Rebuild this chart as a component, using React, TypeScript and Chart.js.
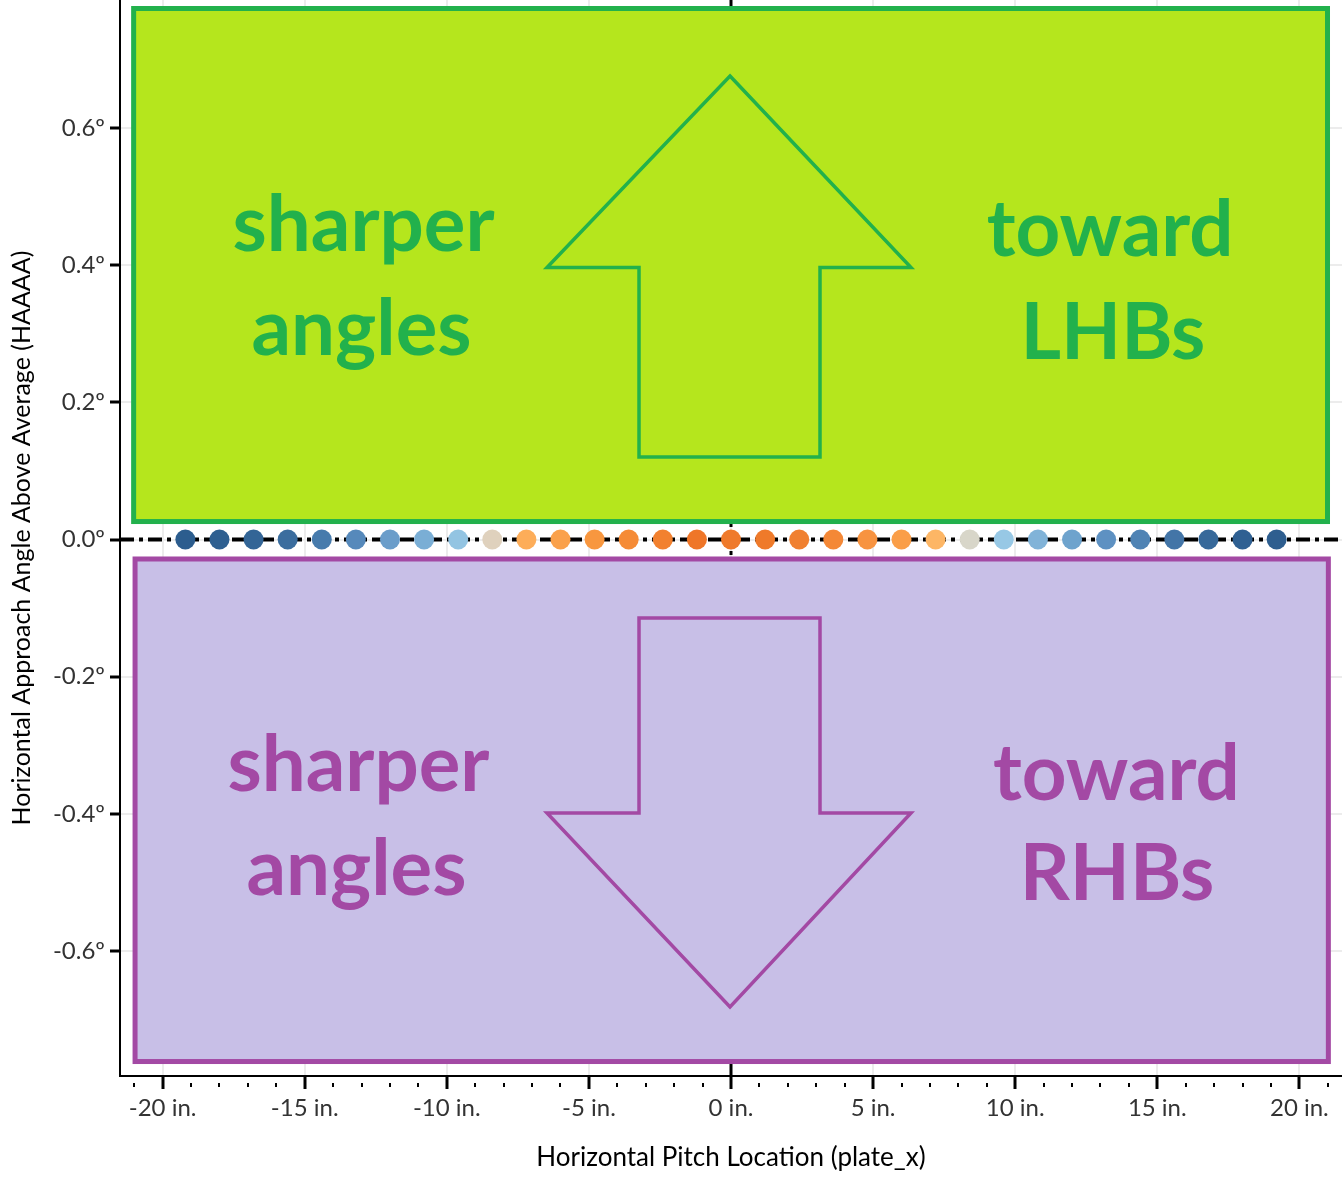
import React, { useEffect, useRef } from 'react';
import { Chart, registerables } from 'chart.js';

Chart.register(...registerables);

// ---- data ----
const plateX = [
  -19.2, -18.0, -16.8, -15.6, -14.4, -13.2, -12.0, -10.8, -9.6, -8.4, -7.2,
  -6.0, -4.8, -3.6, -2.4, -1.2, 0, 1.2, 2.4, 3.6, 4.8, 6.0,
  7.2, 8.4, 9.6, 10.8, 12.0, 13.2, 14.4, 15.6, 16.8, 18.0, 19.2,
];
const haaaa = [
  0, 0, 0, 0, 0, 0, 0, 0, 0, 0, 0,
  0, 0, 0, 0, 0, 0, 0, 0, 0, 0, 0,
  0, 0, 0, 0, 0, 0, 0, 0, 0, 0, 0,
];
const dotColors = [
  '#2c5d8e', '#2e5f90', '#336596', '#3b6d9e', '#477bac', '#5689bb', '#6a9dca', '#7aaed5', '#93c4e2', '#dfd1bd', '#fdad59',
  '#faa14b', '#f8973f', '#f58b36', '#f2812f', '#ef7628', '#ef7a2b', '#ef7a2a', '#f08030', '#f48836', '#f79340', '#fa9e48',
  '#fdb665', '#d8d6c9', '#97c8e5', '#81b3d8', '#6ea3cd', '#5e91c2', '#4f83b4', '#4375a7', '#37699a', '#2f6092', '#2e5e8f',
];
const xTickValues = [-20, -15, -10, -5, 0, 5, 10, 15, 20];
const xMinorValues = [
  -21, -19, -18, -17, -16, -14, -13, -12, -11, -9, -8, -7, -6, -4, -3, -2, -1,
  1, 2, 3, 4, 6, 7, 8, 9, 11, 12, 13, 14, 16, 17, 18, 19, 21,
];
const yTickValues = [-0.6, -0.4, -0.2, 0, 0.2, 0.4, 0.6];

// ---- annotations (data units) ----
const panels = [
  { x1: -21.02, x2: 20.99, y1: 0.774, y2: 0.0262, fill: '#b5e61d', stroke: '#22b14c' },
  { x1: -20.97, x2: 21.02, y1: -0.0284, y2: -0.7609, fill: '#c8bfe7', stroke: '#a349a4' },
];
const arrows = [
  {
    color: '#22b14c',
    pts: [[-0.035, 0.6756], [6.334, 0.3964], [3.132, 0.3964], [3.132, 0.1203], [-3.237, 0.1203], [-3.237, 0.3964], [-6.475, 0.3964]],
  },
  {
    color: '#a349a4',
    pts: [[-3.237, -0.1144], [3.132, -0.1144], [3.132, -0.3987], [6.334, -0.3987], [-0.035, -0.6815], [-6.475, -0.3987], [-3.237, -0.3987]],
  },
];
const notes = [
  { text: 'sharper', x: -12.93, y: 0.421, color: '#22b14c' },
  { text: 'angles', x: -13.0, y: 0.2689, color: '#22b14c' },
  { text: 'toward', x: 13.34, y: 0.4137, color: '#22b14c' },
  { text: 'LHBs', x: 13.44, y: 0.2631, color: '#22b14c' },
  { text: 'sharper', x: -13.11, y: -0.3662, color: '#a349a4' },
  { text: 'angles', x: -13.18, y: -0.5182, color: '#a349a4' },
  { text: 'toward', x: 13.56, y: -0.3797, color: '#a349a4' },
  { text: 'RHBs', x: 13.58, y: -0.5255, color: '#a349a4' },
];

const FONT = 'Lato, "Noto Sans", sans-serif';

const overlayPlugin = {
  id: 'overlay',
  beforeDatasetsDraw(chart: any) {
    const { ctx, chartArea } = chart;
    const xs = chart.scales.x;
    const ys = chart.scales.y;
    const px = (v: number) => xs.getPixelForValue(v);
    const py = (v: number) => ys.getPixelForValue(v);
    ctx.save();
    // vertical zero reference line
    ctx.strokeStyle = '#000';
    ctx.lineWidth = 3;
    ctx.setLineDash([14, 5, 4, 5]);
    ctx.beginPath();
    ctx.moveTo(px(0), chartArea.top);
    ctx.lineTo(px(0), chartArea.bottom);
    ctx.stroke();
    ctx.setLineDash([]);
    // panels
    for (const p of panels) {
      const l = px(p.x1), r = px(p.x2), t = py(p.y1), b = py(p.y2);
      ctx.fillStyle = p.fill;
      ctx.fillRect(l, t, r - l, b - t);
      ctx.strokeStyle = p.stroke;
      ctx.lineWidth = 5;
      ctx.strokeRect(l, t, r - l, b - t);
    }
    // arrows
    for (const a of arrows) {
      ctx.strokeStyle = a.color;
      ctx.lineWidth = 3.5;
      ctx.lineJoin = 'miter';
      ctx.beginPath();
      a.pts.forEach(([vx, vy], i) => {
        if (i === 0) ctx.moveTo(px(vx), py(vy));
        else ctx.lineTo(px(vx), py(vy));
      });
      ctx.closePath();
      ctx.stroke();
    }
    // notes
    ctx.font = `bold 78px ${FONT}`;
    ctx.textAlign = 'center';
    ctx.textBaseline = 'alphabetic';
    for (const n of notes) {
      ctx.fillStyle = n.color;
      ctx.fillText(n.text, px(n.x), py(n.y));
    }
    // horizontal zero line
    ctx.strokeStyle = '#000';
    ctx.lineWidth = 4;
    ctx.setLineDash([14, 5, 4, 5]);
    ctx.beginPath();
    ctx.moveTo(chartArea.left, py(0));
    ctx.lineTo(chartArea.right, py(0));
    ctx.stroke();
    ctx.restore();
  },
  afterDraw(chart: any) {
    const { ctx, chartArea } = chart;
    const xs = chart.scales.x;
    ctx.save();
    ctx.fillStyle = '#000';
    for (const v of xMinorValues) {
      const x = xs.getPixelForValue(v);
      ctx.fillRect(Math.round(x) - 1, chartArea.bottom + 7, 2, 4);
    }
    ctx.restore();
  },
};

export default function App() {
  const ref = useRef<HTMLCanvasElement>(null);
  useEffect(() => {
    const chart = new Chart(ref.current as HTMLCanvasElement, {
      type: 'scatter',
      data: {
        datasets: [
          {
            data: plateX.map((x, i) => ({ x, y: haaaa[i] })),
            pointBackgroundColor: dotColors,
            pointBorderWidth: 0,
            pointRadius: 10,
            pointHoverRadius: 10,
            showLine: false,
          },
        ],
      },
      options: {
        responsive: false,
        animation: false,
        layout: { padding: 0, autoPadding: false },
        plugins: { legend: { display: false }, tooltip: { enabled: false } },
        scales: {
          x: {
            type: 'linear',
            min: -21.5,
            max: 21.5,
            afterBuildTicks: (s: any) => {
              s.ticks = xTickValues.map((v) => ({ value: v }));
            },
            afterFit: (s: any) => {
              s.height = 105;
              s.paddingLeft = 0;
              s.paddingRight = 0;
            },
            grid: { color: '#ececec', lineWidth: 2, tickColor: '#000', tickLength: 13, tickWidth: 3 },
            border: { color: '#000', width: 2 },
            ticks: {
              callback: (v: any) => `${v} in.`,
              font: { family: FONT, size: 24 },
              color: '#333',
              padding: 5,
              maxRotation: 0,
              autoSkip: false,
            },
            title: {
              display: true,
              text: 'Horizontal Pitch Location (plate_x)',
              font: { family: FONT, size: 26 },
              color: '#000',
              padding: { top: 0, bottom: 8 },
            },
          },
          y: {
            type: 'linear',
            min: -0.782,
            max: 0.7864,
            afterBuildTicks: (s: any) => {
              s.ticks = yTickValues.map((v) => ({ value: v }));
            },
            afterFit: (s: any) => {
              s.width = 120;
              s.paddingTop = 0;
              s.paddingBottom = 0;
            },
            grid: { color: '#ececec', lineWidth: 2, tickColor: '#000', tickLength: 10, tickWidth: 3 },
            border: { color: '#000', width: 2 },
            ticks: {
              callback: (v: any) => `${v < 0 ? '-' : ''}${Math.abs(v).toFixed(1)}º`,
              font: { family: FONT, size: 24 },
              color: '#333',
              padding: 5,
              autoSkip: false,
            },
            title: {
              display: true,
              text: 'Horizontal Approach Angle Above Average (HAAAA)',
              font: { family: FONT, size: 25 },
              color: '#000',
              padding: { top: 7, bottom: 0 },
            },
          },
        },
      },
      plugins: [overlayPlugin],
    } as any);
    return () => chart.destroy();
  }, []);
  return (
    <div style={{ position: 'fixed', left: 0, top: 0, width: 1342, height: 1181, background: '#fff' }}>
      <canvas ref={ref} width={1342} height={1181} style={{ display: 'block', width: 1342, height: 1181 }} />
    </div>
  );
}
